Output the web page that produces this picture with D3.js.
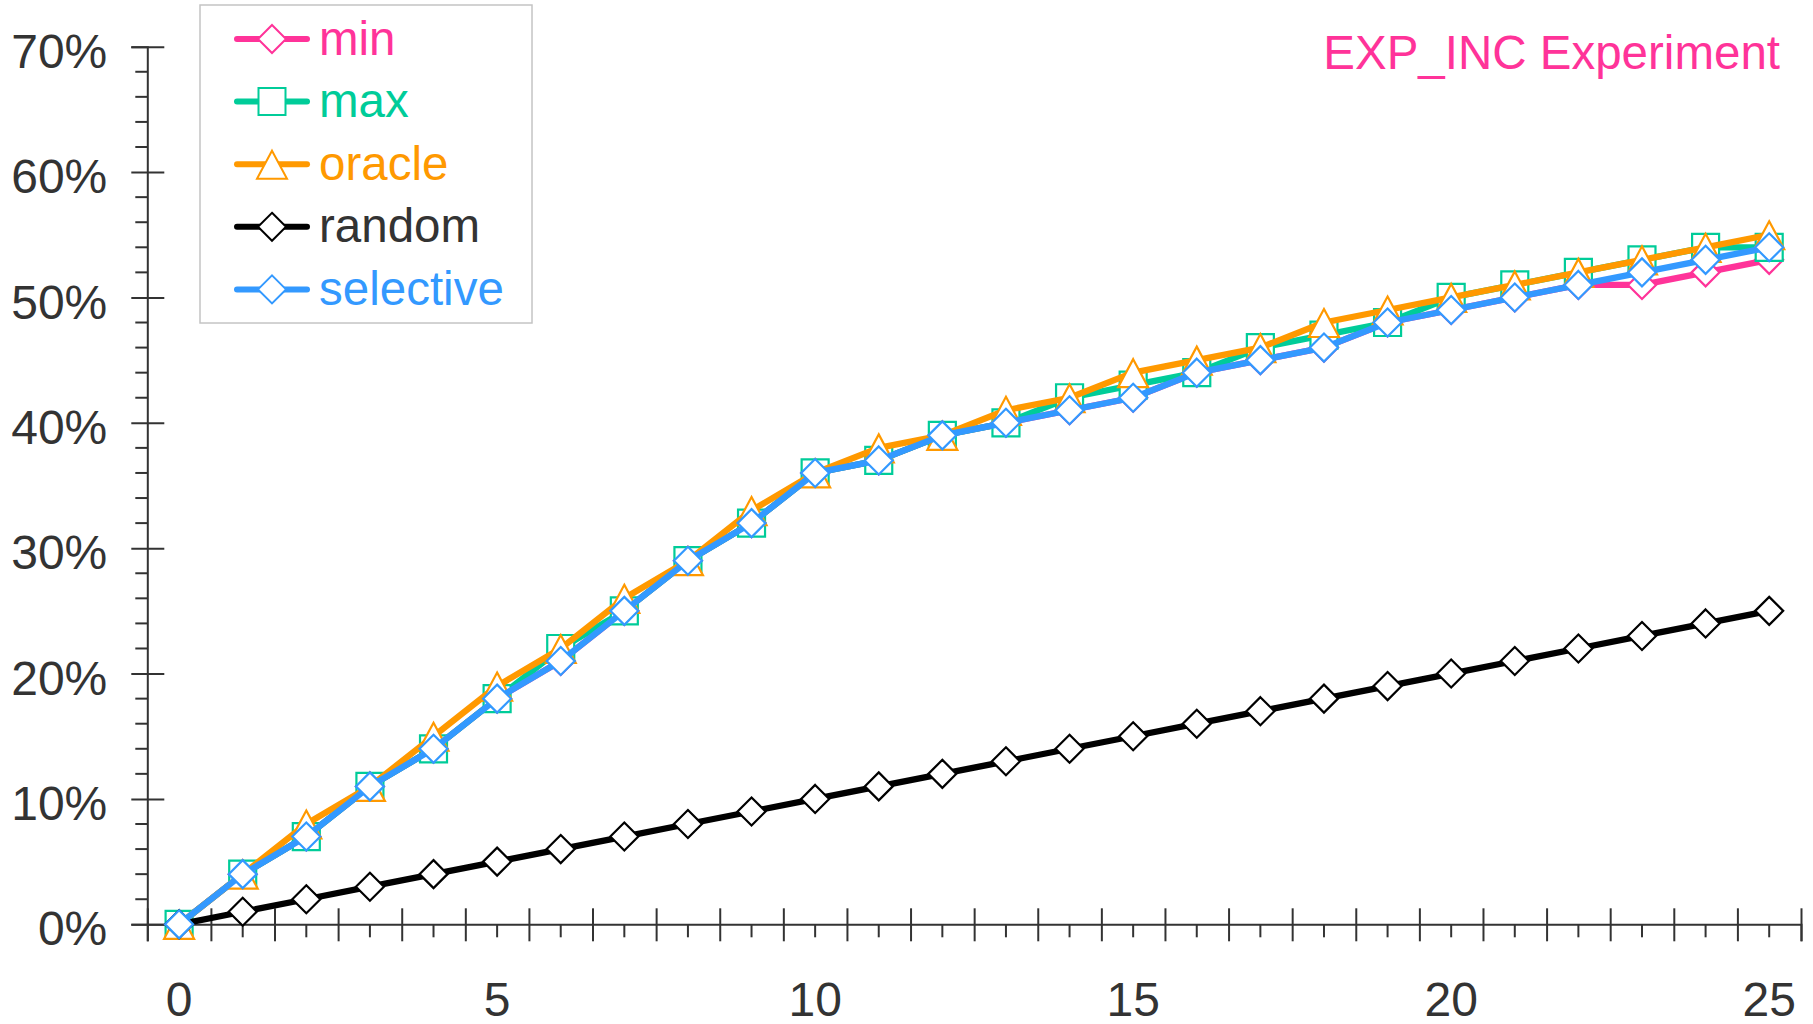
<!DOCTYPE html>
<html>
<head>
<meta charset="utf-8">
<script src="https://cdn.jsdelivr.net/npm/d3@7/dist/d3.min.js"></script>
<style>
  html, body { margin: 0; padding: 0; background: #fff; }
  svg { display: block; }
  text { font-family: "Liberation Sans", Arial, Helvetica, sans-serif; }
</style>
</head>
<body>
<svg id="chart" width="1813" height="1024"></svg>
<script>
// ---- data ----
const steps = d3.range(0, 26);
const seriesNames = ["min", "max", "oracle", "random", "selective"];
const minVals = [0,4,7,11,14,18,21,25,29,32,36,37,39,40,41,42,44,45,46,48,49,50,51,51,52,53];
const maxVals = [0,4,7,11,14,18,22,25,29,32,36,37,39,40,42,43,44,46,47,48,50,51,52,53,54,54];
const oracleVals = [0,4,8,11,15,19,22,26,29,33,36,38,39,41,42,44,45,46,48,49,50,51,52,53,54,55];
const randomVals = [0,1,2,3,4,5,6,7,8,9,10,11,12,13,14,15,16,17,18,19,20,21,22,23,24,25];
const selectiveVals = [0,4,7,11,14,18,21,25,29,32,36,37,39,40,41,42,44,45,46,48,49,50,51,52,53,54];
const xTickLabels = [0, 5, 10, 15, 20, 25];
const yTickLabels = [0, 10, 20, 30, 40, 50, 60, 70];
const titleText = "EXP_INC Experiment";

// ---- styles ----
const colors = { min: "#ff3399", max: "#00cc99", oracle: "#ff9900", random: "#000000", selective: "#3399ff" };
const textColors = { min: "#ff3399", max: "#00cc99", oracle: "#ff9900", random: "#333333", selective: "#3399ff" };
const shapes = { min: "diamond", max: "square", oracle: "triangle", random: "diamond", selective: "diamond" };
const valuesByName = { min: minVals, max: maxVals, oracle: oracleVals, random: randomVals, selective: selectiveVals };

const svg = d3.select("#chart");
const x = d3.scaleLinear().domain([-0.5, 25.5]).range([147.3, 1801]);
const y = d3.scaleLinear().domain([0, 70]).range([924.3, 46.7]);
const axisColor = "#333333";
const fontSize = 48;
const lineW = 6.3;

function markerPath(shape) {
  const p = d3.path();
  if (shape === "diamond") {
    p.moveTo(0, -14); p.lineTo(14, 0); p.lineTo(0, 14); p.lineTo(-14, 0); p.closePath();
  } else if (shape === "square") {
    p.rect(-13.5, -13.5, 27, 27);
  } else {
    p.moveTo(0, -13.5); p.lineTo(15, 14.5); p.lineTo(-15, 14.5); p.closePath();
  }
  return p.toString();
}

// ---- axes ----
const yAxis = d3.axisLeft(y).tickValues(yTickLabels).tickSize(16).tickPadding(24)
  .tickFormat(d => d + "%");
const gy = svg.append("g").attr("transform", `translate(${x(-0.5)},0)`).call(yAxis);
gy.select(".domain").attr("stroke", axisColor).attr("stroke-width", 2);
gy.selectAll(".tick line").attr("stroke", axisColor).attr("stroke-width", 2).attr("x1", 17);
gy.selectAll(".tick text").attr("fill", axisColor).attr("font-size", fontSize).attr("dy", "0.43em")
  .attr("font-family", '"Liberation Sans", Arial, sans-serif');

const yMinor = d3.range(0, 71, 2).filter(v => v % 10 !== 0);
svg.append("g").selectAll("line").data(yMinor).join("line")
  .attr("x1", x(-0.5) - 12).attr("x2", x(-0.5))
  .attr("y1", d => y(d)).attr("y2", d => y(d))
  .attr("stroke", axisColor).attr("stroke-width", 2);

const xMajor = d3.range(-0.5, 26, 1);
const xAxis = d3.axisBottom(x).tickValues(xMajor).tickSize(17).tickFormat("");
const gx = svg.append("g").attr("transform", `translate(0,${y(0)})`).call(xAxis);
gx.select(".domain").attr("stroke", axisColor).attr("stroke-width", 2);
gx.selectAll(".tick line").attr("stroke", axisColor).attr("stroke-width", 2).attr("y1", -16);

svg.append("g").selectAll("line").data(steps).join("line")
  .attr("x1", d => x(d)).attr("x2", d => x(d))
  .attr("y1", y(0)).attr("y2", y(0) + 13)
  .attr("stroke", axisColor).attr("stroke-width", 2);

svg.append("g").selectAll("text").data(xTickLabels).join("text")
  .attr("x", d => x(d)).attr("y", 1016)
  .attr("text-anchor", "middle").attr("font-size", fontSize).attr("fill", axisColor)
  .text(d => d);

// ---- series ----
const line = d3.line().x((d, i) => x(steps[i])).y(d => y(d));
seriesNames.forEach(name => {
  const vals = valuesByName[name];
  const g = svg.append("g");
  g.append("path").datum(vals).attr("d", line)
    .attr("fill", "none").attr("stroke", colors[name]).attr("stroke-width", lineW)
    .attr("stroke-linejoin", "round").attr("stroke-linecap", "round");
  g.selectAll("path.m").data(vals).join("path").attr("class", "m")
    .attr("transform", (d, i) => `translate(${x(steps[i])},${y(d)})`)
    .attr("d", markerPath(shapes[name]))
    .attr("fill", "#fff").attr("stroke", colors[name]).attr("stroke-width", 2.2);
});

// ---- legend ----
const lg = svg.append("g");
lg.append("rect").attr("x", 200).attr("y", 5).attr("width", 332).attr("height", 318)
  .attr("fill", "#fff").attr("stroke", "#c4c4c4").attr("stroke-width", 1.5);
seriesNames.forEach((name, i) => {
  const cy = 39 + i * 62.6;
  lg.append("line").attr("x1", 237).attr("x2", 307).attr("y1", cy).attr("y2", cy)
    .attr("stroke", colors[name]).attr("stroke-width", 6).attr("stroke-linecap", "round");
  lg.append("path").attr("transform", `translate(272,${cy})`).attr("d", markerPath(shapes[name]))
    .attr("fill", "#fff").attr("stroke", colors[name]).attr("stroke-width", 2);
  lg.append("text").attr("x", 319).attr("y", cy + 15.5).attr("font-size", 47.5)
    .attr("fill", textColors[name]).text(name);
});

// ---- title ----
svg.append("text").attr("x", 1780).attr("y", 69).attr("text-anchor", "end")
  .attr("font-size", 47.5).attr("fill", "#ff3399").text(titleText);
</script>
</body>
</html>
